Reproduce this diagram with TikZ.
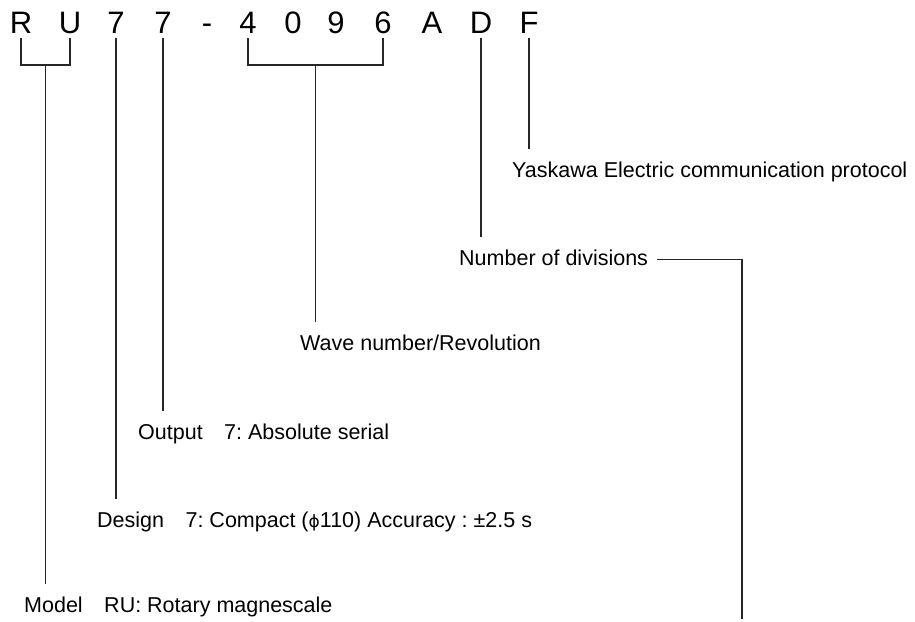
\documentclass[tikz,border=0pt]{standalone}
\usepackage{fontspec}
\setmainfont{Liberation Sans}
\newfontfamily\phifont{DejaVu Sans}
\frenchspacing
\usetikzlibrary{calc}
\tikzset{
  code/.style={font=\fontsize{31}{31}\selectfont, anchor=base, inner sep=0pt},
  note/.style={font=\fontsize{21.5}{21.5}\selectfont, anchor=base west, inner sep=0pt, text height=15pt, text depth=4pt},
  lead/.style={draw=black!85, line width=1.3pt}
}
\begin{document}
\begin{tikzpicture}[x=1pt,y=-1pt]
    \useasboundingbox (0,0) rectangle (915,621);
    \node[code] (r) at (21,33) {R};
    \node[code] (u) at (70,33) {U};
    \node[code] (seven1) at (116,33) {7};
    \node[code] (seven2) at (163,33) {7};
    \node[code] (dash) at (207,33) {-};
    \node[code] (four) at (248,33) {4};
    \node[code] (zero) at (293,33) {0};
    \node[code] (nine) at (336,33) {9};
    \node[code] (six) at (383,33) {6};
    \node[code] (a) at (432,33) {A};
    \node[code] (d) at (481,33) {D};
    \node[code] (f) at (529,33) {F};
    \node[note] (protocol) at (512,177) {Yaskawa Electric communication protocol};
    \node[note] (divisions) at (459,265) {Number of divisions};
    \node[note] (wave) at (300,350) {Wave number/Revolution};
    \node[note] (output) at (138,439) {Output\quad 7: Absolute serial};
    \node[note] (design) at (97,527) {Design\quad 7: Compact ({\phifont\fontsize{17}{17}\selectfont ϕ}110) Accuracy : ±2.5 s};
    \node[note] (model) at (24,612) {Model\quad RU: Rotary magnescale};
    \coordinate (divend) at (742,619);
    \draw[lead, shorten <=5pt, shorten >=5pt] (r.base) -- ++(0,32) -| (u.base);
    \coordinate (rujoin) at ($(r.base)!0.5!(u.base)+(0,32)$);
    \draw[lead, shorten >=13pt] (rujoin) -- (rujoin |- model.north);
    \draw[lead, shorten <=5pt, shorten >=13pt] (seven1.base) -- (seven1.base |- design.north);
    \draw[lead, shorten <=5pt, shorten >=13pt] (seven2.base) -- (seven2.base |- output.north);
    \draw[lead, shorten <=5pt, shorten >=5pt] (four.base) -- ++(0,32) -| (six.base);
    \coordinate (fsjoin) at ($(four.base)!0.5!(six.base)+(0,32)$);
    \draw[lead, shorten >=13pt] (fsjoin) -- (fsjoin |- wave.north);
    \draw[lead, shorten <=5pt, shorten >=13pt] (d.base) -- (d.base |- divisions.north);
    \draw[lead, shorten <=5pt, shorten >=13pt] (f.base) -- (f.base |- protocol.north);
    \draw[lead, shorten <=9pt] (divisions.east) -| (divend);
\end{tikzpicture}
\end{document}
